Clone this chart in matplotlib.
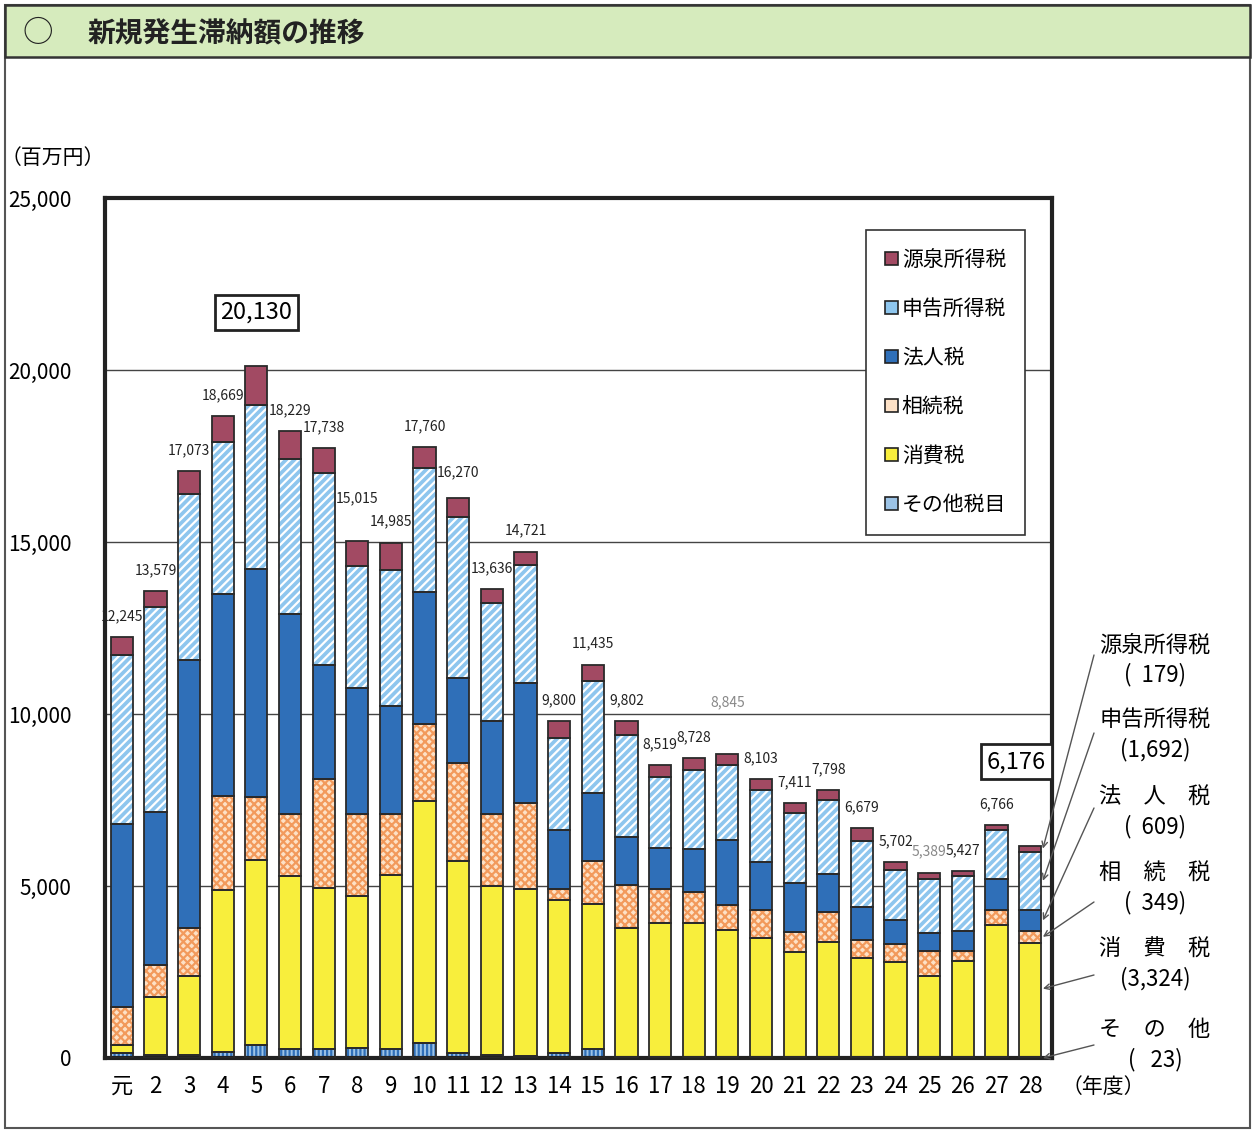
import numpy as np
import matplotlib.pyplot as plt
from matplotlib.patches import Patch, Rectangle

plt.rcParams['font.family'] = ['Noto Sans CJK JP', 'DejaVu Sans']
plt.rcParams['hatch.linewidth'] = 1.6

years = ["元"] + [str(i) for i in range(2, 29)]
totals = [12245, 13579, 17073, 18669, 20130, 18229, 17738, 15015, 14985, 17760,
          16270, 13636, 14721, 9800, 11435, 9802, 8519, 8728, 8845, 8103,
          7411, 7798, 6679, 5702, 5389, 5427, 6766, 6176]

# bottom -> top
sonota = [150, 99, 80, 160, 380, 250, 250, 300, 250, 450,
          150, 80, 50, 150, 250, 30, 25, 25, 25, 25,
          25, 25, 25, 25, 25, 25, 25, 23]
shohi = [225, 1670, 2297, 4725, 5390, 5045, 4701, 4421, 5078, 7009,
         5588, 4920, 4868, 4440, 4225, 3740, 3909, 3909, 3696, 3467,
         3057, 3336, 2877, 2762, 2352, 2795, 3827, 3324]
sozoku = [1100, 935, 1393, 2738, 1804, 1803, 3164, 2361, 1770, 2262,
          2836, 2082, 2508, 328, 1263, 1263, 984, 902, 738, 803,
          574, 869, 541, 524, 738, 295, 459, 349]
hojin = [5330, 4460, 7787, 5869, 6639, 5820, 3311, 3688, 3148, 3836,
         2459, 2705, 3476, 1721, 1967, 1393, 1197, 1230, 1885, 1394,
         1426, 1131, 934, 705, 524, 574, 886, 609]
shinkoku = [4920, 5951, 4836, 4410, 4771, 4492, 5574, 3525, 3934, 3607,
            4705, 3443, 3442, 2672, 3246, 2967, 2065, 2295, 2181, 2098,
            2049, 2131, 1934, 1443, 1558, 1606, 1442, 1692]
gensen = [520, 464, 680, 767, 1146, 819, 738, 720, 805, 596,
          532, 406, 377, 489, 484, 409, 339, 367, 320, 316,
          280, 306, 368, 243, 192, 132, 127, 179]

series = [
    ("その他税目", sonota, "#9cc3e6", "#2f6fb8", "||||"),
    ("消費税", shohi, "#f8ee3c", None, None),
    ("相続税", sozoku, "#fde1c6", "#f29a5c", "xxxx"),
    ("法人税", hojin, "#2f6fb8", None, None),
    ("申告所得税", shinkoku, "#8ec6ee", "white", "////"),
    ("源泉所得税", gensen, "#a24a63", None, None),
]

W, H = 1256, 1133
fig = plt.figure(figsize=(W / 100, H / 100), dpi=100)


def fx(px):
    return px / W


def fy(py):
    return 1 - py / H


# page frame and header band
fig.patches.append(Rectangle((fx(5), fy(1128)), fx(1245), 1128 / H - 5 / H,
                             transform=fig.transFigure, fill=False,
                             edgecolor="#555555", lw=1.5))
fig.patches.append(Rectangle((fx(5), fy(57)), fx(1245), 52 / H,
                             transform=fig.transFigure, facecolor="#d6ebbd",
                             edgecolor="#333333", lw=1.8))
fig.text(fx(22), fy(34), "○", fontsize=22, color="#222222", va="center")
fig.text(fx(88), fy(34), "新規発生滞納額の推移", fontsize=20, fontweight="bold",
         color="#222222", va="center")

ax = fig.add_axes([fx(105), fy(1058), fx(1052 - 105), (1058 - 198) / H])
x = np.arange(len(years))
bw = 0.66
bottom = np.zeros(len(years))
for name, vals, fc, hc, hatch in series:
    vals = np.array(vals, dtype=float)
    if hatch:
        ax.bar(x, vals, bw, bottom=bottom, color=fc, edgecolor=hc, hatch=hatch,
               lw=0, zorder=2)
    else:
        ax.bar(x, vals, bw, bottom=bottom, color=fc, lw=0, zorder=2)
    ax.bar(x, vals, bw, bottom=bottom, fill=False, edgecolor="#2a2a2a", lw=1.3, zorder=3)
    bottom += vals

ax.set_xlim(-0.5, len(years) - 0.35)
ax.set_ylim(0, 25000)
ax.set_yticks(range(0, 25001, 5000))
ax.set_yticklabels([f"{v:,}" for v in range(0, 25001, 5000)], fontsize=15)
ax.set_xticks(x)
ax.set_xticklabels(years, fontsize=16)
ax.tick_params(length=0)
ax.tick_params(axis="y", pad=24)
ax.tick_params(axis="x", pad=12)
for v in range(5000, 25000, 5000):
    ax.axhline(v, color="#444444", lw=1.0, zorder=1)
for s in ax.spines.values():
    s.set_linewidth(3)
    s.set_color("#222222")

# total labels
extra_off = {7: 16, 18: 22, 10: 4}
for i, t in enumerate(totals):
    if i == 4 or i == len(totals) - 1:
        continue
    col = "#888888" if t in (8845, 5389) else "#222222"
    off = 10 + extra_off.get(i, 0)
    ax.annotate(f"{t:,}", (x[i], t), xytext=(0, off), textcoords="offset points",
                ha="center", va="bottom", fontsize=10, color=col)
box = dict(boxstyle="square,pad=0.25", fc="white", ec="#222222", lw=2)
ax.annotate(f"{totals[4]:,}", (x[4], totals[4]), xytext=(0, 30), textcoords="offset points",
            ha="center", va="bottom", fontsize=17, bbox=box)
ax.annotate(f"{totals[-1]:,}", (x[-1], totals[-1]), xytext=(-10, 52), textcoords="offset points",
            ha="center", va="bottom", fontsize=17, bbox=box)

# legend
handles = [Patch(facecolor=fc, edgecolor="#222222", lw=1.2)
           for name, vals, fc, hc, hatch in series][::-1]
labels = [s[0] for s in series][::-1]
leg = ax.legend(handles, labels, loc="upper left", bbox_to_anchor=(0.793, 0.975),
                fontsize=15, handlelength=0.6, handleheight=0.6, handletextpad=0.2,
                labelspacing=1.3, borderpad=0.9, fancybox=False, framealpha=1,
                edgecolor="#333333")
leg.get_frame().set_linewidth(1.2)
leg.set_zorder(5)

# right-side notes for year 28
names = ["源泉所得税", "申告所得税", "法　人　税", "相　続　税", "消　費　税", "そ　の　他"]
last = [gensen[-1], shinkoku[-1], hojin[-1], sozoku[-1], shohi[-1], sonota[-1]]
tops = np.cumsum([sonota[-1], shohi[-1], sozoku[-1], hojin[-1], shinkoku[-1], gensen[-1]])[::-1]
text_y = [645, 720, 797, 873, 949, 1030]
start_y = [655, 733, 808, 902, 975, 1045]
for k in range(6):
    mid = tops[k] - last[k] / 2
    if k == 4:
        mid = tops[k] - last[k] * 0.4
    if k == 5:
        mid = 0
    fig.text(fx(1155), fy(text_y[k]), names[k], fontsize=16, ha="center", va="center")
    num = f"{last[k]:,}"
    fig.text(fx(1155), fy(text_y[k] + 30), f"({num:>5})", fontsize=16, ha="center", va="center")
    ax.annotate("", xy=(x[-1] + bw / 2 + 0.05, mid), xycoords="data",
                xytext=(fx(1094), fy(start_y[k])), textcoords="figure fraction",
                arrowprops=dict(arrowstyle="->", color="#555555", lw=1.0,
                                shrinkA=0, shrinkB=0),
                annotation_clip=False)

fig.text(fx(105), fy(158), "（百万円）", fontsize=15, ha="right", va="center")
fig.text(fx(1062), fy(1087), "（年度）", fontsize=15, ha="left", va="center")

fig.savefig("out.png", dpi=100)
